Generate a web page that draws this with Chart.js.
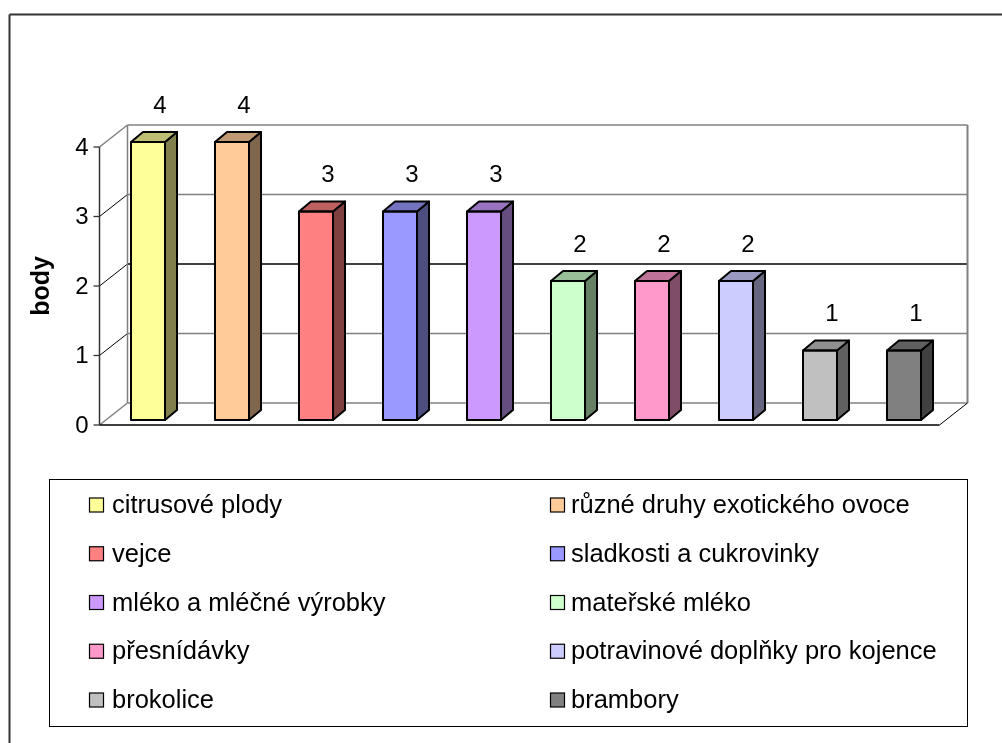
<!DOCTYPE html>
<html>
<head>
<meta charset="utf-8">
<script src="https://cdn.jsdelivr.net/npm/chart.js@4.4.1/dist/chart.umd.min.js"></script>
<style>
  html, body { margin: 0; padding: 0; background: #ffffff; }
  canvas { display: block; }
</style>
</head>
<body>
<canvas id="bodyChart" width="1002" height="743"></canvas>
<script>
  // Data
  const categories = [
    "citrusové plody",
    "různé druhy exotického ovoce",
    "vejce",
    "sladkosti a cukrovinky",
    "mléko a mléčné výrobky",
    "mateřské mléko",
    "přesnídávky",
    "potravinové doplňky pro kojence",
    "brokolice",
    "brambory",
  ];
  const values = [4, 4, 3, 3, 3, 2, 2, 2, 1, 1];
  const barColors = [
    "#ffff99", "#ffcc99", "#ff8080", "#9999ff", "#cc99ff",
    "#ccffcc", "#ff99cc", "#ccccff", "#c0c0c0", "#808080",
  ];
  const yTicks = [0, 1, 2, 3, 4];
  const yTitle = "body";

  const FONT = "'Liberation Sans', Arial, sans-serif";
  // pseudo-3D offsets, relative to the plane the bars stand in
  const front = { dx: -6.5, dy: 5 };
  const back = { dx: 21.5, dy: -17 };
  const depth = { dx: 12, dy: -10 };

  function shade(hex, f) {
    const n = parseInt(hex.slice(1), 16);
    const r = Math.round(((n >> 16) & 255) * f);
    const g = Math.round(((n >> 8) & 255) * f);
    const b = Math.round((n & 255) * f);
    return "rgb(" + r + "," + g + "," + b + ")";
  }

  function line(ctx, x1, y1, x2, y2, color, w) {
    ctx.beginPath();
    ctx.strokeStyle = color;
    ctx.lineWidth = w;
    ctx.moveTo(x1, y1);
    ctx.lineTo(x2, y2);
    ctx.stroke();
  }

  const box3d = {
    id: "box3d",
    beforeDatasetsDraw(chart) {
      const ctx = chart.ctx;
      const ys = chart.scales.y;
      const left = chart.chartArea.left;
      const right = chart.chartArea.right;
      ctx.save();

      // outer frame
      line(ctx, 9.5, 14.5, 9.5, 743, "#333333", 2);
      line(ctx, 9.5, 14.5, 1002, 14.5, "#333333", 2);

      // back wall and side wall grid
      const bl = left + back.dx, br = right + back.dx;
      const fl = left + front.dx, fr = right + front.dx;
      yTicks.forEach(function (v) {
        const y = ys.getPixelForValue(v);
        const edge = v === yTicks[0] || v === yTicks[yTicks.length - 1];
        line(ctx, bl, y + back.dy, br, y + back.dy, v === 2 ? "#000000" : "#808080", 1.3);
        line(ctx, fl, y + front.dy, bl, y + back.dy, edge ? "#808080" : "#000000", edge ? 1.5 : 1);
      });
      const yTop = ys.getPixelForValue(yTicks[yTicks.length - 1]);
      const yBase = ys.getPixelForValue(0);
      line(ctx, bl, yTop + back.dy, bl, yBase + back.dy, "#808080", 1.5);
      line(ctx, br, yTop + back.dy, br, yBase + back.dy, "#808080", 2);

      // floor front edges
      line(ctx, fl, yBase + front.dy, fr, yBase + front.dy, "#000000", 1.3);
      line(ctx, fr, yBase + front.dy, br, yBase + back.dy, "#000000", 1);

      // value axis
      line(ctx, fl, yTop + front.dy, fl, yBase + front.dy, "#333333", 1.5);
      ctx.font = "24px " + FONT;
      ctx.fillStyle = "#000000";
      ctx.textAlign = "right";
      ctx.textBaseline = "middle";
      yTicks.forEach(function (v) {
        const y = ys.getPixelForValue(v) + front.dy;
        line(ctx, fl - 6, y, fl, y, "#333333", 1.3);
        ctx.fillText(String(v), fl - 11, y + 1);
      });

      // axis title
      ctx.save();
      ctx.translate(42, (yTop + yBase) / 2 + front.dy);
      ctx.rotate(-Math.PI / 2);
      ctx.font = "bold 25px " + FONT;
      ctx.textAlign = "center";
      ctx.textBaseline = "middle";
      ctx.fillText(yTitle, 0, 0);
      ctx.restore();

      // legend box, two columns
      ctx.fillStyle = "#ffffff";
      ctx.fillRect(49.5, 479.5, 918, 247);
      ctx.strokeStyle = "#000000";
      ctx.lineWidth = 1;
      ctx.strokeRect(49.5, 479.5, 918, 247);
      ctx.font = "25.5px " + FONT;
      ctx.textAlign = "left";
      ctx.textBaseline = "alphabetic";
      categories.forEach(function (name, i) {
        const col = i % 2;
        const row = Math.floor(i / 2);
        const sx = col === 0 ? 89.5 : 550.5;
        const tx = col === 0 ? 112 : 571;
        const cy = 505 + row * 48.75;
        ctx.fillStyle = barColors[i];
        ctx.fillRect(sx, cy - 7, 14, 14);
        ctx.strokeStyle = "#000000";
        ctx.lineWidth = 1.2;
        ctx.strokeRect(sx, cy - 7, 14, 14);
        ctx.fillStyle = "#000000";
        ctx.fillText(name, tx, cy + 8);
      });

      ctx.restore();
    },
    afterDatasetsDraw(chart) {
      const ctx = chart.ctx;
      const meta = chart.getDatasetMeta(0);
      ctx.save();
      ctx.lineJoin = "round";
      meta.data.forEach(function (bar, i) {
        const p = bar.getProps(["x", "y", "base", "width"], true);
        const l = p.x - p.width / 2, r = p.x + p.width / 2;
        const t = p.y, b = p.base;
        // right side face
        ctx.beginPath();
        ctx.moveTo(r, t);
        ctx.lineTo(r + depth.dx, t + depth.dy);
        ctx.lineTo(r + depth.dx, b + depth.dy);
        ctx.lineTo(r, b);
        ctx.closePath();
        ctx.fillStyle = shade(barColors[i], 0.5);
        ctx.fill();
        ctx.strokeStyle = "#000000";
        ctx.lineWidth = 2;
        ctx.stroke();
        // top face
        ctx.beginPath();
        ctx.moveTo(l, t);
        ctx.lineTo(l + depth.dx, t + depth.dy);
        ctx.lineTo(r + depth.dx, t + depth.dy);
        ctx.lineTo(r, t);
        ctx.closePath();
        ctx.fillStyle = shade(barColors[i], 0.75);
        ctx.fill();
        ctx.stroke();
        // front outline
        ctx.strokeRect(l, t, r - l, b - t);
        // value label
        ctx.fillStyle = "#000000";
        ctx.font = "24px " + FONT;
        ctx.textAlign = "center";
        ctx.textBaseline = "middle";
        ctx.fillText(String(values[i]), p.x + 12, t - 36);
      });
      ctx.restore();
    },
  };

  new Chart(document.getElementById("bodyChart").getContext("2d"), {
    type: "bar",
    data: {
      labels: categories,
      datasets: [
        {
          data: values,
          backgroundColor: barColors,
          borderWidth: 0,
          categoryPercentage: 1,
          barPercentage: 0.405,
        },
      ],
    },
    options: {
      responsive: false,
      animation: false,
      events: [],
      layout: { padding: { left: 106, right: 56, top: 142, bottom: 323 } },
      scales: {
        x: { display: false },
        y: { display: false, min: 0, max: 4 },
      },
      plugins: {
        legend: { display: false },
        tooltip: { enabled: false },
      },
    },
    plugins: [box3d],
  });
</script>
</body>
</html>
